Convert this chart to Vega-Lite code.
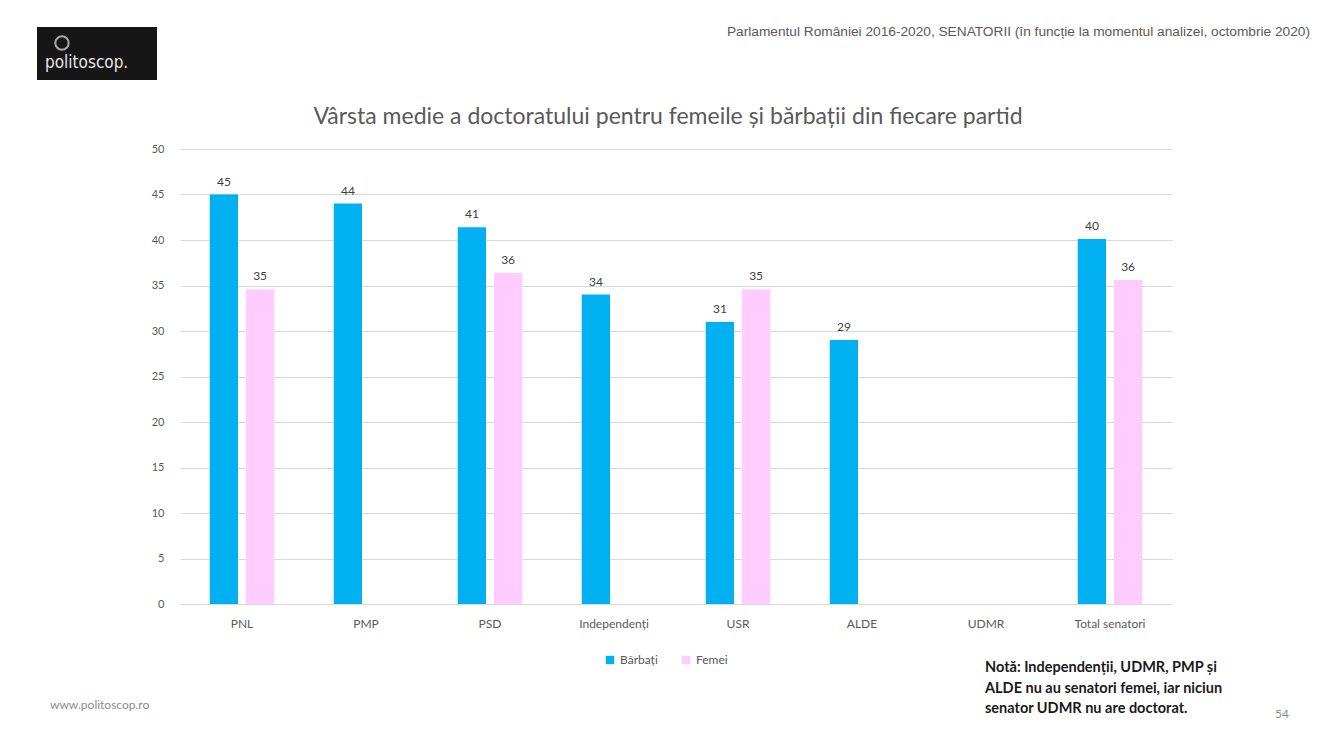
{
  "$schema": "https://vega.github.io/schema/vega-lite/v6.json",
  "autosize": "none",
  "width": 992,
  "height": 455,
  "padding": {"left": 180, "top": 149, "right": 160, "bottom": 146},
  "background": "white",
  "config": {
    "view": {"stroke": null},
    "font": "Lato"
  },
  "layer": [
    {
      "data": {
        "values": [
          {"partid": "PNL", "sex": "Bărbați", "varsta": 45.0},
          {"partid": "PNL", "sex": "Femei", "varsta": 34.6},
          {"partid": "PMP", "sex": "Bărbați", "varsta": 44.0},
          {"partid": "PSD", "sex": "Bărbați", "varsta": 41.4},
          {"partid": "PSD", "sex": "Femei", "varsta": 36.4},
          {"partid": "Independenți", "sex": "Bărbați", "varsta": 34.0},
          {"partid": "USR", "sex": "Bărbați", "varsta": 31.0},
          {"partid": "USR", "sex": "Femei", "varsta": 34.6},
          {"partid": "ALDE", "sex": "Bărbați", "varsta": 29.0},
          {"partid": "Total senatori", "sex": "Bărbați", "varsta": 40.1},
          {"partid": "Total senatori", "sex": "Femei", "varsta": 35.6}
        ]
      },
      "encoding": {
        "x": {
          "field": "partid",
          "type": "nominal",
          "sort": null,
          "scale": {
            "domain": ["PNL", "PMP", "PSD", "Independenți", "USR", "ALDE", "UDMR", "Total senatori"],
            "paddingInner": 0.48,
            "paddingOuter": 0.24
          },
          "axis": {
            "title": null,
            "labelAngle": 0,
            "ticks": false,
            "domain": true,
            "domainColor": "#D9D9D9",
            "labelColor": "#595959",
            "labelFontSize": 12,
            "labelPadding": 14
          }
        },
        "xOffset": {
          "field": "sex",
          "type": "nominal",
          "scale": {"domain": ["Bărbați", "Femei"], "paddingInner": 0.22, "paddingOuter": 0}
        },
        "y": {
          "field": "varsta",
          "type": "quantitative",
          "scale": {"domain": [0, 50], "nice": false},
          "axis": {
            "title": null,
            "values": [0, 5, 10, 15, 20, 25, 30, 35, 40, 45, 50],
            "domain": false,
            "ticks": false,
            "gridColor": "#D9D9D9",
            "labelColor": "#595959",
            "labelFontSize": 11,
            "labelPadding": 16
          }
        }
      },
      "layer": [
        {
          "mark": {"type": "bar"},
          "encoding": {
            "color": {
              "field": "sex",
              "type": "nominal",
              "scale": {"domain": ["Bărbați", "Femei"], "range": ["#00B0F0", "#FFCCFF"]},
              "legend": {
                "title": null,
                "orient": "none",
                "legendX": 424,
                "legendY": 505,
                "direction": "horizontal",
                "symbolType": "square",
                "symbolSize": 70,
                "symbolStrokeWidth": 0,
                "labelFontSize": 12,
                "labelColor": "#595959",
                "columnPadding": 22
              }
            }
          }
        },
        {
          "mark": {"type": "text", "baseline": "bottom", "dy": -6, "fontSize": 12, "color": "#404040"},
          "encoding": {
            "text": {"field": "varsta", "type": "quantitative", "format": ".0f"}
          }
        }
      ]
    },
    {
      "data": {"values": [{}]},
      "mark": {"type": "text", "align": "center", "baseline": "middle", "fontSize": 23, "color": "#595959"},
      "encoding": {
        "x": {"value": 488},
        "y": {"value": -32},
        "text": {"value": "Vârsta medie a doctoratului pentru femeile și bărbații din fiecare partid"}
      }
    },
    {
      "data": {"values": [{}]},
      "mark": {"type": "rect", "color": "#161616"},
      "encoding": {
        "x": {"value": -143},
        "x2": {"value": -23},
        "y": {"value": -122},
        "y2": {"value": -69}
      }
    },
    {
      "data": {"values": [{}]},
      "mark": {"type": "point", "shape": "circle", "size": 180, "stroke": "#E6E6E6", "strokeWidth": 2, "filled": false},
      "encoding": {
        "x": {"value": -118},
        "y": {"value": -106}
      }
    },
    {
      "data": {"values": [{}]},
      "mark": {"type": "text", "align": "left", "baseline": "middle", "fontSize": 17, "font": "DejaVu Sans Condensed", "color": "#E6E6E6"},
      "encoding": {
        "x": {"value": -135},
        "y": {"value": -86},
        "text": {"value": "politoscop."}
      }
    },
    {
      "data": {"values": [{}]},
      "mark": {"type": "text", "align": "right", "baseline": "middle", "fontSize": 13.7, "font": "Liberation Sans", "color": "#595959"},
      "encoding": {
        "x": {"value": 1130},
        "y": {"value": -117},
        "text": {"value": "Parlamentul României 2016-2020, SENATORII (în funcție la momentul analizei, octombrie 2020)"}
      }
    },
    {
      "data": {"values": [{}]},
      "mark": {"type": "text", "align": "left", "baseline": "middle", "fontSize": 12, "color": "#8C8C8C"},
      "encoding": {
        "x": {"value": -130},
        "y": {"value": 556},
        "text": {"value": "www.politoscop.ro"}
      }
    },
    {
      "data": {"values": [{}]},
      "mark": {"type": "text", "align": "left", "baseline": "middle", "fontSize": 12, "color": "#8C8C8C"},
      "encoding": {
        "x": {"value": 1095},
        "y": {"value": 565},
        "text": {"value": "54"}
      }
    },
    {
      "data": {"values": [{}]},
      "mark": {"type": "text", "align": "left", "baseline": "middle", "fontSize": 14.5, "fontWeight": "bold", "lineHeight": 20.5, "color": "#1A1A1A"},
      "encoding": {
        "x": {"value": 805},
        "y": {"value": 519},
        "text": {"value": ["Notă: Independenții, UDMR, PMP și", "ALDE nu au senatori femei, iar niciun", "senator UDMR nu are doctorat."]}
      }
    }
  ]
}
